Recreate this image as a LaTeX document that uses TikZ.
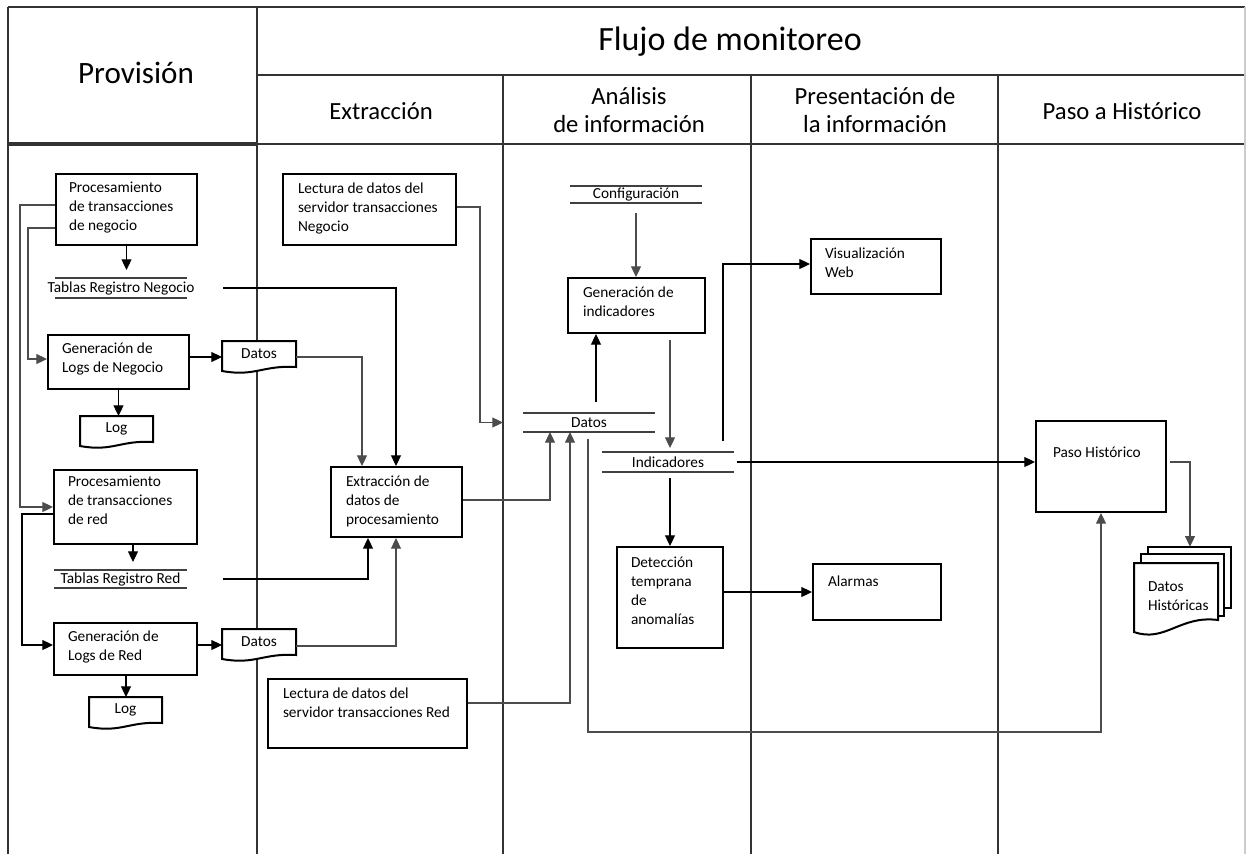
\documentclass[tikz,border=0pt]{standalone}
\usepackage{fontspec}
\setmainfont{Carlito}
\usetikzlibrary{arrows.meta,calc}

\newlength{\pxu}
\setlength{\pxu}{0.75pt}

\tikzset{
  lane/.style={draw=black!80, line width=1.5pt},
  faint/.style={draw=black!20, line width=0.8pt},
  procst/.style={draw=black, line width=1.5pt, fill=white, outer sep=0.75pt,
    font=\fontsize{11.5}{14.2}\selectfont},
  plaintxt/.style={font=\fontsize{11.5}{14.2}\selectfont, inner sep=0pt, outer sep=0pt},
  storest/.style={font=\fontsize{11.5}{14.2}\selectfont, inner sep=0pt, outer sep=0pt},
  storeline/.style={draw=black!75, line width=0.8pt},
  docst/.style={draw=black, line width=1.5pt, fill=white},
  hdrbig/.style={font=\fontsize{25.5}{30}\selectfont, inner sep=0pt},
  hdrsub/.style={font=\fontsize{18.5}{21}\selectfont, inner sep=0pt, align=center},
  arr/.style={-{Triangle[length=8pt,width=7.5pt]}},
  cnb/.style={draw=black, line width=0.8pt},
  cng/.style={draw=black!70, line width=0.8pt},
}

% process box: name, x0, y0, x1, y1, left pad, top pad, lines
\newcommand{\procbox}[8]{%
  \node[procst, anchor=north west, inner xsep={#6*0.75pt}, inner ysep={#7*0.75pt}] (#1) at (#2,#3)
    {\parbox[c][\dimexpr\pxu*(#5-#3-2*#7)\relax][t]{\dimexpr\pxu*(#4-#2-2*#6)\relax}%
      {\begin{tabular}[t]{@{}l@{}}#8\end{tabular}}};%
}

% data store: name, x0, x1, top, bottom, text
\newcommand{\datastore}[6]{%
  \node[storest, minimum width={(#3-#2)*0.75pt}, minimum height={(#5-#4)*0.75pt}]
    (#1) at ({(#2+#3)/2},{(#4+#5)/2}) {#6};%
  \draw[storeline] (#2,#4) -- (#3,#4) (#2,#5) -- (#3,#5);%
}

% document: name, x0, y0, x1, right bottom, left bottom, text
\newcommand{\docnode}[7]{%
  \draw[docst] (#2,#3) -- (#4,#3) -- (#4,#5)
    .. controls ({#4-0.45*(#4-#2)},{#5-2}) and ({#2+0.45*(#4-#2)},{#6+6}) .. (#2,#6) -- cycle;%
  \node[plaintxt, minimum width={(#4-#2)*0.75pt}, minimum height={(#5-#3)*0.75pt}]
    (#1) at ({(#2+#4)/2},{(#3+#5)/2}) {#7};%
}

\begin{document}
\begin{tikzpicture}[x=0.75pt, y=-0.75pt]
\useasboundingbox (0,0) rectangle (1246,854);

% swimlane frame
\draw[lane] (8,7) -- (1245,7);
\draw[lane] (8,7) -- (8,854);
\draw[lane] (257,7) -- (257,854);
\draw[lane] (503,75) -- (503,854);
\draw[lane] (751,75) -- (751,854);
\draw[lane] (998,75) -- (998,854);
\draw[lane] (257,75) -- (1245,75);
\draw[lane] (257,144) -- (1245,144);
\draw[lane, line width=2.6pt] (8,144) -- (257,144);
\draw[faint] (1245,7) -- (1245,854);

% headers
\node[hdrbig, font=\fontsize{23.3}{28}\selectfont] (tProv) at (136,73) {Provisión};
\node[hdrbig] (tFlujo) at (730,42) {Flujo de monitoreo};
\node[hdrsub] (tExt) at (381,111) {Extracción};
\node[hdrsub] (tAna) at (629,110) {Análisis\\de información};
\node[hdrsub] (tPres) at (875,110) {Presentación de\\la información};
\node[hdrsub] (tPaso) at (1122,111) {Paso a Histórico};

% Provision lane
\procbox{pn}{55}{173}{196}{244}{13}{5}{Procesamiento\\de transacciones\\de negocio}
\datastore{trn}{55}{187}{278}{298}{Tablas Registro Negocio}
\procbox{glN}{47}{334}{188}{388}{14}{5}{Generación de\\Logs de Negocio}
\docnode{logN}{80}{416}{153}{442}{446}{Log}
\docnode{datN}{222}{341}{296}{367}{371}{Datos}
\procbox{pr}{53}{469}{196}{543}{14}{3}{Procesamiento\\de transacciones\\de red}
\datastore{trr}{54}{187}{570}{588}{Tablas Registro Red}
\procbox{glR}{53}{622}{196}{674}{14}{5}{Generación de\\Logs de Red}
\docnode{logR}{89}{697}{162}{723}{727}{Log}
\docnode{datR}{222}{629}{296}{655}{659}{Datos}

% Extraction lane
\procbox{ln}{282}{173}{455}{244}{15}{6}{Lectura de datos del\\servidor transacciones\\Negocio}
\procbox{ex}{330}{466}{461}{536}{15}{6}{Extracción de\\datos de\\procesamiento}
\procbox{lr}{267}{678}{466}{747}{15}{6}{Lectura de datos del\\servidor transacciones Red}

% Analysis lane
\datastore{cfg}{570}{702}{186}{203}{Configuración}
\procbox{gi}{567}{277}{704}{332}{15}{6}{Generación de\\indicadores}
\datastore{dA}{523}{655}{413}{432}{Datos}
\datastore{ind}{602}{734}{452}{472}{Indicadores}
\procbox{det}{616}{546}{722}{647}{14}{7}{Detección\\temprana\\de\\anomalías}

% Presentation lane
\procbox{vw}{810}{238}{940}{293}{14}{6}{Visualización\\Web}
\procbox{al}{812}{563}{940}{619}{15}{9}{Alarmas}

% History lane
\procbox{ph}{1035}{420}{1165}{511}{17}{23}{Paso Histórico}
\draw[docst] (1148,547) rectangle (1231,608);
\draw[docst] (1141,554) rectangle (1224,616);
\draw[docst] (1134,563) -- (1218,563) -- (1218,620)
  .. controls (1180,615) and (1165,643) .. (1134,632) -- cycle;
\node[inner sep=0pt, minimum width={83*0.75pt}, minimum height={61*0.75pt}] (mdb) at (1189.5,577.5) {};
\node[plaintxt, anchor=north west, inner xsep={14*0.75pt}, inner ysep={15*0.75pt}] (mdf) at (1134,563)
  {\parbox[c][\dimexpr\pxu*40\relax][t]{\dimexpr\pxu*56\relax}{\begin{tabular}[t]{@{}l@{}}Datos\\Históricas\end{tabular}}};

% connectors in the provision lane
\draw[cng,arr] (pn.west |- 0,205) -| (20,507) -- (pr.west |- 0,507);
\draw[cng,arr] (pn.west |- 0,228) -| (28,359) -- (glN.west |- 0,359);
\draw[cnb,arr,shorten >=6pt] (pn.south) -- (pn.south |- trn.north);
\draw[cnb,arr] (glN.east |- 0,357) -- (datN.west |- 0,357);
\draw[cnb,arr] (glN.south) -- (glN.south |- logN.north);
\draw[cnb,arr] (pr.west |- 0,514) -| (22,645) -- (glR.west |- 0,645);
\draw[cnb,arr,shorten >=6pt] (133,0 |- pr.south) -- (133,0 |- trr.north);
\draw[cnb,arr] (glR.east |- 0,645) -- (datR.west |- 0,645);
\draw[cnb,arr] (126,0 |- glR.south) -- (126,0 |- logR.north);

% connectors into the extraction step
\draw[cnb,arr] ($(trn.center)+(102,0)$) -| (396,0 |- ex.north);
\draw[cng,arr] (datN.east |- 0,357) -| (362,0 |- ex.north);
\draw[cnb,arr] ($(trr.center)+(102,0)$) -| (368,0 |- ex.south);
\draw[cng,arr] (datR.east |- 0,646) -| (396,0 |- ex.south);

% connectors into the analysis data
\draw[cng,arr,shorten >=15pt] (ln.east |- 0,207) -| (480,0 |- dA.west) -- (dA.west);
\draw[cng,arr] (ex.east |- 0,500) -| (550,0 |- dA.south);
\draw[cng,arr] (lr.east |- 0,703) -| (570,0 |- dA.south);

% analysis flow
\draw[cng,arr,shorten <=7.5pt] (636,0 |- cfg.south) -- (636,0 |- gi.north);
\draw[cnb,arr,shorten <=8pt] (596,0 |- dA.north) -- (596,0 |- gi.south);
\draw[cng,arr,shorten <=4.5pt,shorten >=3pt] (670,0 |- gi.south) -- (670,0 |- ind.north);
\draw[cnb,arr,shorten <=4.5pt] (670,0 |- ind.south) -- (670,0 |- det.north);
\draw[cnb,arr,shorten <=8pt] (723,0 |- ind.north) |- (vw.west |- 0,264);
\draw[cnb,arr,shorten <=2pt] (ind.east) -- (ph.west |- ind.east);
\draw[cnb,arr] (det.east |- 0,592) -- (al.west |- 0,592);
\draw[cng,arr,shorten <=5pt] (588,0 |- dA.south) -- (588,732) -| (1101,0 |- ph.south);

% history output
\draw[cng,arr,shorten <=2pt] (ph.east |- 0,462) -| (1190,0 |- mdb.north);

\end{tikzpicture}
\end{document}
